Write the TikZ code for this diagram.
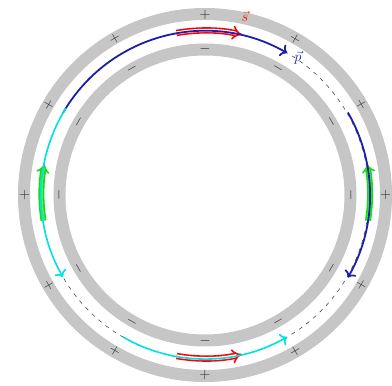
\documentclass[tikz,border=0pt]{standalone}
\usetikzlibrary{arrows.meta}
\begin{document}
\begin{tikzpicture}[x=1pt,y=1pt,
  ring/.style={draw=gray!45,line width=12pt},
  dashring/.style={draw=black!70,line width=0.6pt,dash pattern=on 4pt off 5pt},
  bluearc/.style={draw={rgb,255:red,30;green,30;blue,170},line width=1.8pt,-{To[length=6pt,width=13pt]}},
  cyanarc/.style={draw={rgb,255:red,0;green,225;blue,225},line width=1.6pt,-{To[length=6pt,width=13pt]}},
  redarr/.style={draw=red,line width=1.6pt,double=white,double distance=3.2pt,-{Implies[length=5pt]}},
  greenarr/.style={draw={rgb,255:red,20;green,220;blue,20},line width=1.6pt,double={rgb,255:red,80;green,240;blue,80},double distance=2.8pt,-{Implies[length=5pt]}},
  plusmark/.style={inner sep=0pt,font=\Large,text=black!85},
  minusmark/.style={inner sep=0pt,font=\Large,text=black!85}]
\useasboundingbox (0,0) rectangle (392,386);
\coordinate (C) at (205,191);
% rings
\draw[ring] (C) circle[radius=181];
\draw[ring] (C) circle[radius=145.5];
\draw[dashring] (C) circle[radius=164];
% signs
\foreach \a in {0,30,...,330}{
  \node[plusmark,rotate=\a-90] (po\a) at ([shift={(\a:180.5)}]C) {$+$};
  \node[minusmark,rotate=\a-90] (mi\a) at ([shift={(\a:146)}]C) {$-$};
}
% spin arrows
\draw[redarr] ([shift={(100:164.5)}]C) arc[start angle=100,end angle=77,radius=164.5];
\draw[redarr] ([shift={(260:163.5)}]C) arc[start angle=260,end angle=283,radius=163.5];
\draw[greenarr] ([shift={(-9:165)}]C) arc[start angle=-9,end angle=11,radius=165];
\draw[greenarr] ([shift={(189:163.5)}]C) arc[start angle=189,end angle=169,radius=163.5];
% momentum arcs
\draw[bluearc] ([shift={(150:164)}]C) arc[start angle=150,end angle=60,radius=164];
\draw[bluearc] ([shift={(30:165)}]C) arc[start angle=30,end angle=-30,radius=165];
\draw[cyanarc] ([shift={(148:164)}]C) arc[start angle=148,end angle=210,radius=164];
\draw[cyanarc] ([shift={(240:164)}]C) arc[start angle=240,end angle=300,radius=164];
% labels
\node[text=red,inner sep=0pt,font=\Large] (slab) at (245,370) {$\vec{s}$};
\node[text={rgb,255:red,30;green,30;blue,170},inner sep=0pt,font=\Large] (plab) at (298,328) {$\vec{p}$};
\end{tikzpicture}
\end{document}
